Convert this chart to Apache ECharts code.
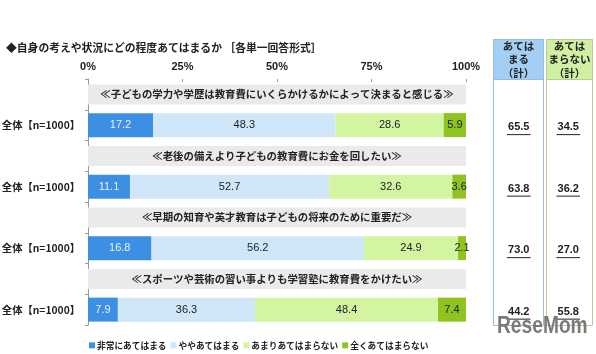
<!DOCTYPE html>
<html><head><meta charset="utf-8">
<script src="https://cdn.jsdelivr.net/npm/echarts@6/dist/echarts.min.js"></script>
<style>html,body{margin:0;padding:0;background:#fff}#c{width:596px;height:354px}</style>
</head><body><div id="c"></div>
<script>
var questions = [
  '≪子どもの学力や学歴は教育費にいくらかけるかによって決まると感じる≫',
  '≪老後の備えより子どもの教育費にお金を回したい≫',
  '≪早期の知育や英才教育は子どもの将来のために重要だ≫',
  '≪スポーツや芸術の習い事よりも学習塾に教育費をかけたい≫'
];
var rowLabel = '全体【n=1000】';
var seriesNames = ['非常にあてはまる', 'ややあてはまる', 'あまりあてはまらない', '全くあてはまらない'];
var veryApplies = [17.2, 11.1, 16.8, 7.9];
var somewhatApplies = [48.3, 52.7, 56.2, 36.3];
var notMuch = [28.6, 32.6, 24.9, 48.4];
var notAtAll = [5.9, 3.6, 2.1, 7.4];
var totalApplies = ['65.5', '63.8', '73.0', '44.2'];
var totalNot = ['34.5', '36.2', '27.0', '55.8'];
var tableHeaders = ['あては\nまる\n（計）', 'あては\nまらない\n（計）'];

var colors = ['#3d8fe4', '#cfe7f9', '#d3f5a2', '#8fc322'];
var FONT = '"Noto Sans CJK JP", sans-serif';
var NUMFONT = '"Liberation Sans", Arial, sans-serif';

var cats = [];
questions.forEach(function (q, i) { cats.push('q' + i); cats.push('r' + i); });

function barRows(arr) {
  var out = [];
  arr.forEach(function (v) { out.push('-'); out.push(v); });
  return out;
}
var bannerData = [];
questions.forEach(function () { bannerData.push(100); bannerData.push('-'); });

var valueSeries = [veryApplies, somewhatApplies, notMuch, notAtAll].map(function (arr, k) {
  return {
    name: seriesNames[k], type: 'bar', stack: 'a', xAxisIndex: 0, yAxisIndex: 0,
    barWidth: 24, data: barRows(arr),
    itemStyle: { color: colors[k] },
    label: { show: true, position: 'inside', fontSize: 11, fontFamily: NUMFONT,
      color: k === 0 ? '#e6f2ff' : '#222',
      formatter: function (p) { return p.value.toFixed(1); } },
    emphasis: { disabled: true }, silent: true
  };
});

var tableData = [];
totalApplies.forEach(function (v, i) { tableData.push([0, 'r' + i, v]); });
totalNot.forEach(function (v, i) { tableData.push([1, 'r' + i, v]); });

var chart = echarts.init(document.getElementById('c'));
chart.setOption({
  animation: false,
  textStyle: { fontFamily: FONT },
  title: {
    text: '◆自身の考えや状況にどの程度あてはまるか ［各単一回答形式］',
    left: 1, top: 38,
    textStyle: { fontSize: 10.8, fontWeight: 'bold', color: '#222', fontFamily: FONT }
  },
  legend: {
    data: seriesNames, left: 84, top: 336, itemWidth: 6, itemHeight: 6, itemGap: 4,
    icon: 'rect', selectedMode: false,
    textStyle: { fontSize: 8.7, fontWeight: 'bold', color: '#222', fontFamily: FONT, padding: [0, 0, 0, -3] }
  },
  grid: [
    { left: 88, right: 130, top: 79, bottom: 29, containLabel: false, outerBoundsMode: 'none' },
    { left: 493, width: 99, top: 79, bottom: 29, containLabel: false, outerBoundsMode: 'none' }
  ],
  xAxis: [
    { type: 'value', gridIndex: 0, position: 'top', min: 0, max: 100, interval: 25,
      axisLine: { show: false }, splitLine: { show: false },
      axisTick: { show: true, inside: true, length: 3, lineStyle: { color: '#999' } },
      axisLabel: { margin: 7, fontSize: 11, fontWeight: 'bold', color: '#222', fontFamily: NUMFONT,
        formatter: '{value}%' } },
    { type: 'category', gridIndex: 1, data: [0, 1], show: false }
  ],
  yAxis: [
    { type: 'category', gridIndex: 0, data: cats, inverse: true,
      axisLine: { show: true, lineStyle: { color: '#999' } },
      axisTick: { show: true, length: 3, lineStyle: { color: '#999' } },
      axisLabel: { margin: 8, fontSize: 10.3, fontWeight: 'bold', color: '#222', fontFamily: FONT,
        formatter: function (v) { return v.charAt(0) === 'r' ? rowLabel : ''; } } },
    { type: 'category', gridIndex: 0, data: cats, inverse: true, show: false },
    { type: 'category', gridIndex: 1, data: cats, inverse: true, show: false }
  ],
  graphic: [
    { type: 'rect', shape: { x: 493.5, y: 39.5, width: 50, height: 286 }, style: { fill: '#fff', stroke: '#9dbad6', lineWidth: 1 }, z: 0 },
    { type: 'rect', shape: { x: 493.5, y: 39.5, width: 50, height: 40 }, style: { fill: '#a4cff4', stroke: '#9dbad6', lineWidth: 1 }, z: 0 },
    { type: 'rect', shape: { x: 546.5, y: 39.5, width: 46, height: 286 }, style: { fill: '#fff', stroke: '#b5cf8e', lineWidth: 1 }, z: 0 },
    { type: 'rect', shape: { x: 546.5, y: 39.5, width: 46, height: 40 }, style: { fill: '#cff0a2', stroke: '#b5cf8e', lineWidth: 1 }, z: 0 },
    { type: 'text', x: 518.5, y: 39, z: 1, style: { text: tableHeaders[0], align: 'center', fontSize: 10.5, lineHeight: 13.5, fontWeight: 'bold', fill: '#222', fontFamily: FONT } },
    { type: 'text', x: 569.5, y: 39, z: 1, style: { text: tableHeaders[1], align: 'center', fontSize: 10.5, lineHeight: 13.5, fontWeight: 'bold', fill: '#222', fontFamily: FONT } },
    { type: 'text', x: 497, y: 314, scaleX: 0.8, z: 5, style: { text: 'ReseMom', fontSize: 24, fontWeight: 'bold', fill: '#7a7a7a', fontFamily: '"Liberation Sans", Arial, sans-serif' } }
  ],
  series: [
    { type: 'bar', name: 'banner', xAxisIndex: 0, yAxisIndex: 1, barWidth: 20, data: bannerData,
      itemStyle: { color: '#eaeaea' }, silent: true, z: 1,
      label: { show: true, position: 'inside', fontSize: 10.4, fontWeight: 'bold', color: '#222', fontFamily: FONT,
        formatter: function (p) { return questions[p.dataIndex / 2]; } } }
  ].concat(valueSeries).concat([
    { type: 'custom', xAxisIndex: 1, yAxisIndex: 2, data: tableData, silent: true, z: 3,
      encode: { x: 0, y: 1 },
      renderItem: function (params, api) {
        var i = params.dataIndex;
        var pt = api.coord([api.value(0), 'r' + (i % 4)]);
        var txt = tableData[i][2];
        var w = txt.length * 5.9;
        return { type: 'group', children: [
          { type: 'text', x: pt[0] + 1, y: pt[1] + 2, style: { text: txt, align: 'center', verticalAlign: 'middle', fontSize: 11, fontWeight: 'bold', fill: '#222', fontFamily: NUMFONT } },
          { type: 'line', shape: { x1: pt[0] + 1 - w / 2, y1: pt[1] + 9.5, x2: pt[0] + 1 + w / 2, y2: pt[1] + 9.5 }, style: { stroke: '#222', lineWidth: 1 } }
        ] };
      } }
  ])
});
</script></body></html>
